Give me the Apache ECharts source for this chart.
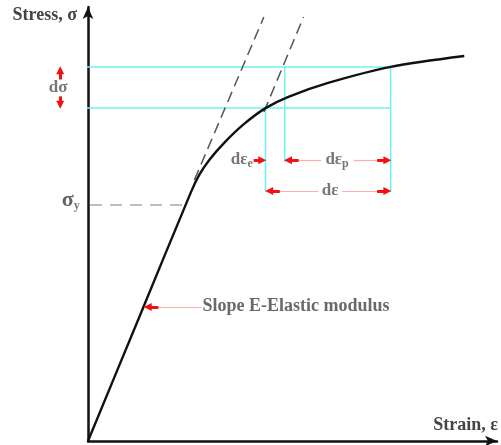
<!DOCTYPE html>
<html><head><meta charset="utf-8">
<script src="https://cdn.jsdelivr.net/npm/echarts@6/dist/echarts.min.js"></script>
<style>html,body{margin:0;padding:0;background:#fff}#c{width:501px;height:445px}</style>
</head><body><div id="c"></div>
<script>
// stress-strain curve (arbitrary units: strain 0..100, stress 0..100)
const curveStrain = [0, 12.6, 25.2, 27.2, 29.6, 33.3, 38.1, 43.4, 49.0, 58.7, 74.0, 92.0];
const curveStress = [0, 28.7, 57.4, 61.3, 64.7, 68.7, 73.0, 76.7, 79.3, 82.5, 86.2, 88.7];
// elastic-slope extension lines
const elasticExt = [[26.0, 60.1], [43.0, 97.7]];
const unloadExt = [[43.0, 75.8], [52.7, 97.7]];
// yield stress level
const yieldLine = [[0.5, 54.4], [23.3, 54.4]];
// construction (cyan) lines
const sigmaHigh = 86.2, sigmaLow = 76.7, cyanLeft = -7.3;
const epsA = 43.4, epsB = 48.1, epsC = 74.0;
const cyanLines = [
  [[cyanLeft, sigmaHigh], [epsC, sigmaHigh]],
  [[cyanLeft, sigmaLow], [epsC, sigmaLow]],
  [[epsA, sigmaLow], [epsA, 57.4]],
  [[epsB, sigmaHigh], [epsB, 64.3]],
  [[epsC, sigmaHigh], [epsC, 57.4]]
];
// red arrow heads [tail, tip]
const redArrows = [
  [[-6.8, 83.3], [-6.8, 85.4]],
  [[-6.8, 79.4], [-6.8, 77.5]],
  [[40.5, 64.7], [42.6, 64.7]],
  [[51.5, 64.7], [48.9, 64.7]],
  [[70.7, 64.7], [73.2, 64.7]],
  [[46.9, 57.6], [44.3, 57.6]],
  [[70.7, 57.6], [73.2, 57.6]],
  [[17.2, 30.9], [14.6, 30.9]]
];
// pink leader lines
const pinkLines = [
  [[51.2, 64.7], [57.0, 64.7]],
  [[65.0, 64.7], [70.9, 64.7]],
  [[46.6, 57.6], [56.3, 57.6]],
  [[62.1, 57.6], [70.9, 57.6]],
  [[17.0, 30.9], [27.7, 30.9]]
];
// annotation labels
const labels = [
  {text: '{m|d\u03c3}', pos: [-7.3, 81.4], align: 'center'},
  {text: '{b|\u03c3}{s|y}', pos: [-2.0, 55.4], align: 'right'},
  {text: '{m|d\u03b5}{s|e}', pos: [40.3, 64.9], align: 'right'},
  {text: '{m|d\u03b5}{s|p}', pos: [60.9, 64.9], align: 'center'},
  {text: '{m|d\u03b5}', pos: [59.2, 57.8], align: 'center'},
  {text: '{t|Slope E-Elastic modulus}', pos: [28.0, 31.1], align: 'left'}
];

const txtColor = '#3c3c3c';
const font = 'Liberation Serif';
const rich = {
  m: {fontFamily: font, fontSize: 17, fontWeight: 'bold', color: '#555'},
  b: {fontFamily: font, fontSize: 22, fontWeight: 'bold', color: txtColor},
  s: {fontFamily: font, fontSize: 12, fontWeight: 'bold', color: '#555', padding: [10, 0, 0, 0]},
  t: {fontFamily: font, fontSize: 18, fontWeight: 'bold', color: '#444'}
};

function segSeries(segs, style) {
  return segs.map(s => ({type: 'line', data: s, symbol: 'none', clip: false, silent: true, lineStyle: style, z: 2}));
}

const chart = echarts.init(document.getElementById('c'));
chart.setOption({
  animation: false,
  grid: {left: 88, right: 1, top: 7, bottom: 4},
  xAxis: {
    type: 'value', min: 0, max: 100,
    name: 'Strain, \u03b5', nameLocation: 'end', nameGap: 1,
    nameTextStyle: {fontFamily: font, fontSize: 18, fontWeight: 'bold', color: '#444', align: 'right', verticalAlign: 'bottom', padding: [0, 0, 7, 0]},
    axisLine: {onZero: false, symbol: ['none', 'arrow'], symbolSize: [8, 12], lineStyle: {color: '#111', width: 2.5}},
    axisTick: {show: false}, axisLabel: {show: false}, splitLine: {show: false}
  },
  yAxis: {
    type: 'value', min: 0, max: 100,
    name: 'Stress, \u03c3', nameLocation: 'end', nameGap: -8,
    nameTextStyle: {fontFamily: font, fontSize: 18, fontWeight: 'bold', color: '#444', align: 'right', verticalAlign: 'middle', padding: [0, 11, 0, 0]},
    axisLine: {onZero: false, symbol: ['none', 'arrow'], symbolSize: [8, 12], lineStyle: {color: '#111', width: 2.5}},
    axisTick: {show: false}, axisLabel: {show: false}, splitLine: {show: false}
  },
  series: [
    ...segSeries(cyanLines, {color: '#6ff2f2', width: 1.5}),
    ...segSeries([yieldLine], {color: '#a8a8a8', width: 1.5, type: [12, 8]}),
    ...segSeries([elasticExt, unloadExt], {color: '#555', width: 1.5, type: [11, 6]}),
    {type: 'line', symbol: 'none', clip: false, smooth: 0.3, z: 5,
     data: curveStrain.map((x, i) => [x, curveStress[i]]),
     lineStyle: {color: '#111', width: 2.4}},
    {type: 'lines', coordinateSystem: 'cartesian2d', clip: false, silent: true, z: 4,
     symbol: ['none', 'none'],
     lineStyle: {color: '#ffadad', width: 1.2, curveness: 0, opacity: 1},
     data: pinkLines.map(s => ({coords: s}))},
    {type: 'lines', coordinateSystem: 'cartesian2d', clip: false, silent: true, z: 6,
     symbol: ['none', 'triangle'], symbolSize: [6, 8],
     lineStyle: {color: '#f21010', width: 3, curveness: 0, opacity: 1},
     data: redArrows.map(s => ({coords: s}))},
    {type: 'scatter', symbolSize: 0, clip: false, silent: true, z: 10,
     data: labels.map(l => ({value: l.pos, label: {show: true, position: 'inside', formatter: l.text, align: l.align, verticalAlign: 'middle', rich: rich}}))}
  ]
});
</script></body></html>
